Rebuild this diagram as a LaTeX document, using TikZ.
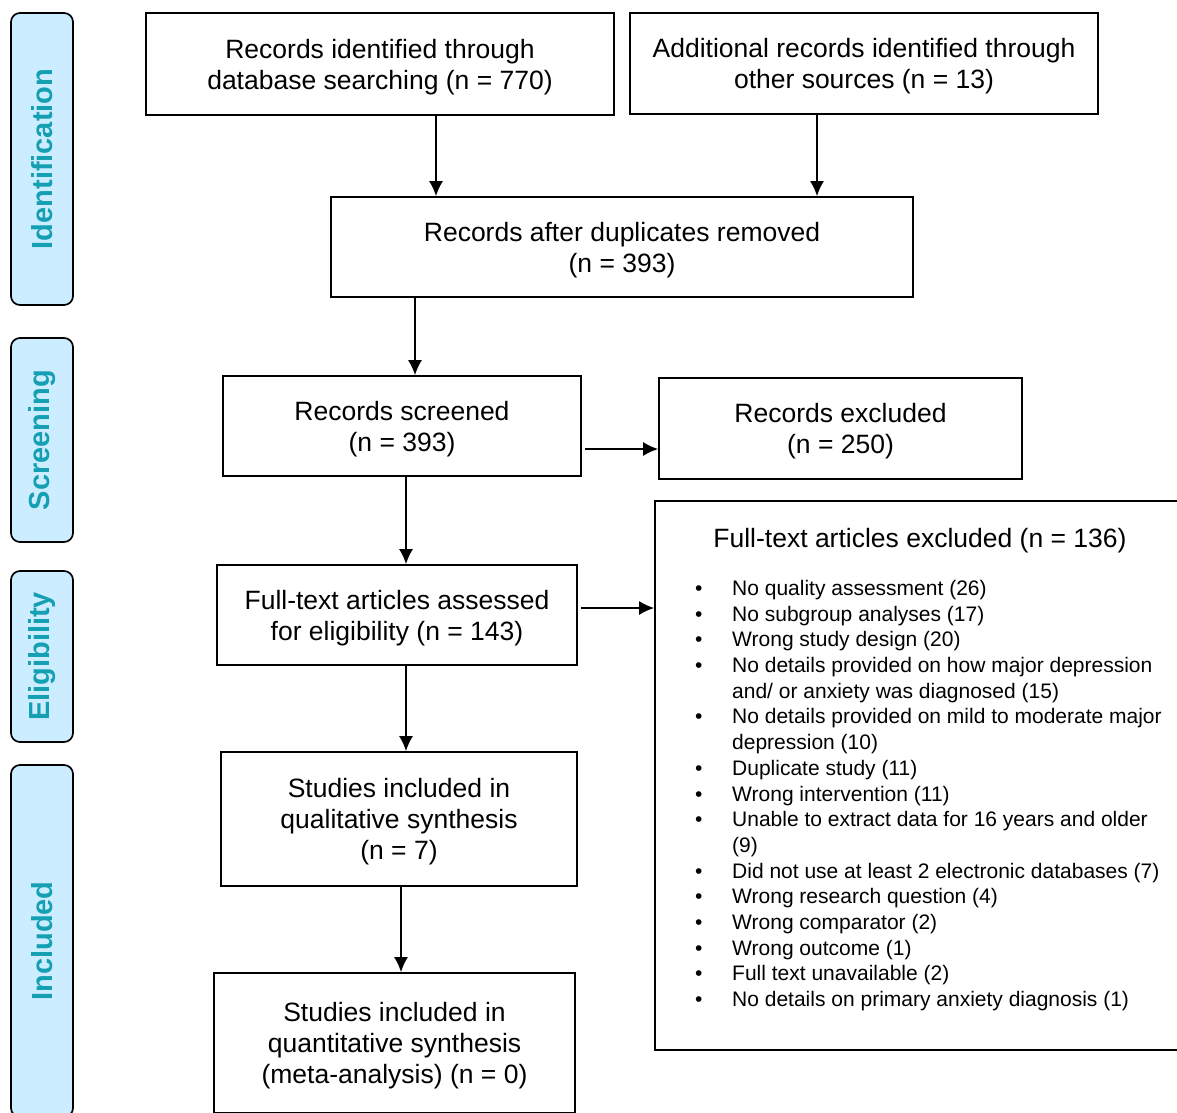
\documentclass[tikz,border=0pt]{standalone}
\usepackage{fontspec}
\setmainfont{Liberation Sans}
\usetikzlibrary{arrows.meta}
\definecolor{phasefill}{RGB}{204,236,255}
\definecolor{phasetext}{RGB}{20,160,178}
\tikzset{>={Latex[length=15pt,width=14pt]}}
\tikzset{
  box/.style={draw,line width=1.7pt,fill=white,align=center,inner sep=0pt,text depth=0pt,
    font=\fontsize{26.5pt}{31pt}\selectfont},
  phase/.style={draw,line width=1.7pt,fill=phasefill,rounded corners=9pt,rotate=90,
    minimum height=62pt,inner sep=0pt,text=phasetext,font=\bfseries\fontsize{29pt}{30pt}\selectfont},
  flow/.style={->,line width=1.7pt}
}
\newcommand{\ftitem}{\makebox[37pt][l]{\textbullet}}
\newcommand{\ftcont}{\hspace*{37pt}}

\begin{document}
\begin{tikzpicture}[x=1pt,y=1pt]
  \useasboundingbox (0,0) rectangle (1177,-1112);
  \clip (0,0) rectangle (1177,-1112);
  % phases
  \node[phase,minimum width=292pt] (ident)  at (42,-159)   {Identification};
  \node[phase,minimum width=204pt] (screen) at (42,-440)   {Screening};
  \node[phase,minimum width=171pt] (elig)   at (42,-656.5) {Eligibility};
  \node[phase,minimum width=352pt] (incl)   at (42,-941)   {Included};
  % identification
  \node[box,minimum width=468pt,minimum height=102pt] (db)    at (380,-64)   {Records identified through\\database searching (n = 770)};
  \node[box,minimum width=468pt,minimum height=101pt] (other) at (864,-63.5) {Additional records identified through\\other sources (n = 13)};
  \node[box,minimum width=582pt,minimum height=100pt] (dup)   at (622,-247)  {Records after duplicates removed\\(n = 393)};
  % screening
  \node[box,minimum width=358pt,minimum height=100pt] (screened) at (402,-426)   {Records screened\\(n = 393)};
  \node[box,minimum width=363pt,minimum height=101pt] (excl)     at (840.5,-428.5) {Records excluded\\(n = 250)};
  % eligibility
  \node[box,minimum width=360pt,minimum height=100pt] (fulltext) at (397,-615) {Full-text articles assessed\\for eligibility (n = 143)};
  \node[box,minimum width=535pt,minimum height=549pt] (ftexcl)   at (922.5,-775.5) {};
  \node[font=\fontsize{26.5pt}{31pt}\selectfont,inner sep=0pt] (fttitle) at (920,-541) {Full-text articles excluded (n = 136)};
  \node[anchor=north west,align=left,inner sep=0pt,font=\fontsize{21pt}{25.7pt}\selectfont] (ftlist) at (695,-580) {%
    \ftitem No quality assessment (26)\\
    \ftitem No subgroup analyses (17)\\
    \ftitem Wrong study design (20)\\
    \ftitem No details provided on how major depression\\
    \ftcont and/ or anxiety was diagnosed (15)\\
    \ftitem No details provided on mild to moderate major\\
    \ftcont depression (10)\\
    \ftitem Duplicate study (11)\\
    \ftitem Wrong intervention (11)\\
    \ftitem Unable to extract data for 16 years and older\\
    \ftcont (9)\\
    \ftitem Did not use at least 2 electronic databases (7)\\
    \ftitem Wrong research question (4)\\
    \ftitem Wrong comparator (2)\\
    \ftitem Wrong outcome (1)\\
    \ftitem Full text unavailable (2)\\
    \ftitem No details on primary anxiety diagnosis (1)};
  % included
  \node[box,minimum width=356pt,minimum height=134pt] (qual)  at (399,-819)    {Studies included in\\qualitative synthesis\\(n = 7)};
  \node[box,minimum width=361pt,minimum height=140pt] (quant) at (394.5,-1043) {Studies included in\\quantitative synthesis\\(meta-analysis) (n = 0)};
  % arrows
  \draw[flow] ([xshift=56pt]db.south) -- ([xshift=56pt]db.south |- dup.north);
  \draw[flow] ([xshift=-47pt]other.south) -- ([xshift=-47pt]other.south |- dup.north);
  \draw[flow] ([xshift=-207pt]dup.south) -- ([xshift=-207pt]dup.south |- screened.north);
  \draw[flow] ([xshift=3pt,yshift=-23pt]screened.east) -- ([yshift=-23pt]screened.east -| excl.west);
  \draw[flow] ([xshift=4pt]screened.south) -- ([xshift=4pt]screened.south |- fulltext.north);
  \draw[flow] ([xshift=3pt,yshift=7pt]fulltext.east) -- ([yshift=7pt]fulltext.east -| ftexcl.west);
  \draw[flow] ([xshift=9pt]fulltext.south) -- ([xshift=9pt]fulltext.south |- qual.north);
  \draw[flow] ([xshift=2pt]qual.south) -- ([xshift=2pt]qual.south |- quant.north);
\end{tikzpicture}
\end{document}
